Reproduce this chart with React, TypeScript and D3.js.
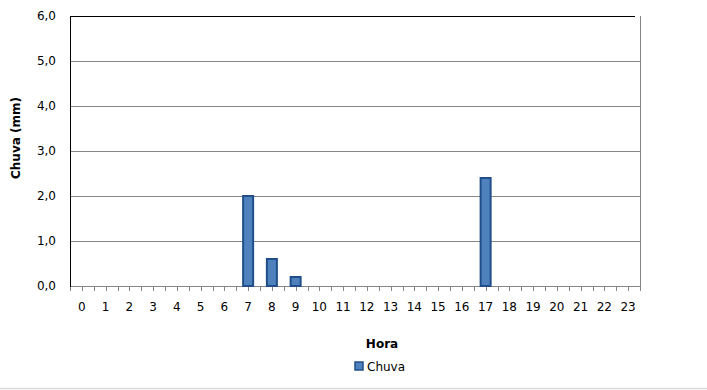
import React from "react";
import * as d3 from "d3";

const hours: string[] = Array.from({ length: 24 }, (_, i) => String(i));
const rain: number[] = [0, 0, 0, 0, 0, 0, 0, 2.0, 0.6, 0.2, 0, 0, 0, 0, 0, 0, 0, 2.4, 0, 0, 0, 0, 0, 0];
const yTicks: number[] = [0, 1, 2, 3, 4, 5, 6];
const seriesName = "Chuva";
const xTitle = "Hora";
const yTitle = "Chuva (mm)";

const W = 707;
const H = 390;
const plot = { left: 70, right: 640, top: 16, bottom: 286 };
const font = "'DejaVu Sans', Verdana, sans-serif";

export default function App() {
  const x = d3.scaleBand<string>().domain(hours).range([plot.left, plot.right]).paddingInner(0).paddingOuter(0);
  const y = d3.scaleLinear().domain([0, 6]).range([plot.bottom, plot.top]);
  const bw = x.bandwidth();
  const barW = 10;
  const fmt = (v: number) => d3.format(".1f")(v).replace(".", ",");

  // tick marks at every half category
  const tickXs = d3.range(0, hours.length * 2 + 1).map((i) => plot.left + (i * bw) / 2);

  return (
    <svg width={W} height={H} style={{ position: "absolute", left: 0, top: 0, background: "#fff" }} fontFamily={font}>
      {yTicks.filter((t) => t > 0 && t < 6).map((t) => (
        <line key={t} x1={plot.left} x2={plot.right} y1={Math.round(y(t)) + 0.5} y2={Math.round(y(t)) + 0.5} stroke="#868686" strokeWidth={1} />
      ))}
      <line x1={plot.left} x2={plot.right - 5} y1={plot.top + 0.5} y2={plot.top + 0.5} stroke="#000" strokeWidth={1} />
      <line x1={plot.right + 0.5} x2={plot.right + 0.5} y1={plot.top} y2={plot.bottom} stroke="#868686" strokeWidth={1} />
      <line x1={plot.left} x2={plot.right + 1} y1={plot.bottom + 0.5} y2={plot.bottom + 0.5} stroke="#868686" strokeWidth={1} />
      {tickXs.map((tx, i) => (
        <line key={i} x1={Math.round(tx) + 0.5} x2={Math.round(tx) + 0.5} y1={plot.bottom} y2={plot.bottom + 5} stroke="#868686" strokeWidth={1} />
      ))}
      <line x1={plot.left + 0.5} x2={plot.left + 0.5} y1={plot.top} y2={plot.bottom + 1} stroke="#000" strokeWidth={1} />

      {rain.map((v, i) => {
        if (v <= 0) return null;
        const cx = (x(hours[i]) as number) + bw / 2;
        return (
          <rect key={i} x={cx - barW / 2} y={y(v)} width={barW} height={y(0) - y(v)} fill="#4F81BD" stroke="#1F4E8A" strokeWidth={2} />
        );
      })}

      {yTicks.map((t) => (
        <text key={t} x={56} y={y(t)} dy="0.35em" textAnchor="end" fontSize={12} fill="#000">{fmt(t)}</text>
      ))}
      {hours.map((h) => (
        <text key={h} x={(x(h) as number) + bw / 2} y={311} textAnchor="middle" fontSize={12} fill="#000">{h}</text>
      ))}

      <text x={382} y={348} textAnchor="middle" fontSize={12} fontWeight="bold" fill="#000">{xTitle}</text>
      <text transform={`translate(20,138) rotate(-90)`} textAnchor="middle" fontSize={12} fontWeight="bold" fill="#000">{yTitle}</text>

      <rect x={355} y={362} width={8} height={8} fill="#4F81BD" stroke="#1F4E8A" strokeWidth={1.5} />
      <text x={367} y={370.5} fontSize={12} fill="#000">{seriesName}</text>

      <line x1={0} x2={707} y1={388.5} y2={388.5} stroke="#d9d9d9" strokeWidth={1.5} />
    </svg>
  );
}
